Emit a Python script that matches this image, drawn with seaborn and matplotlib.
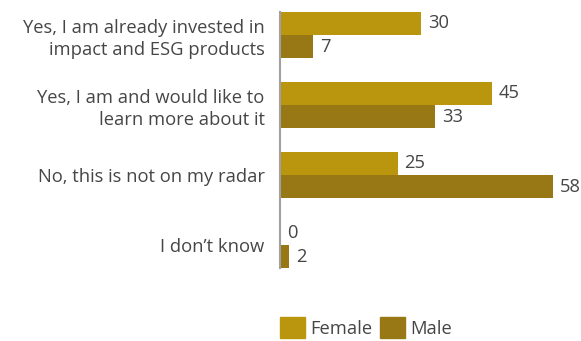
import matplotlib
matplotlib.use("Agg")
import matplotlib.pyplot as plt
import seaborn as sns
import pandas as pd

categories = [
    "Yes, I am already invested in\nimpact and ESG products",
    "Yes, I am and would like to\nlearn more about it",
    "No, this is not on my radar",
    "I don\u2019t know",
]
female = [30, 45, 25, 0]
male = [7, 33, 58, 2]
series = ["Female", "Male"]
colors = ["#BA960F", "#977814"]

df = pd.DataFrame({
    "answer": categories * 2,
    "share": female + male,
    "gender": [series[0]] * len(categories) + [series[1]] * len(categories),
})

sns.set_theme(style="white")
plt.rcParams["font.family"] = ["Open Sans", "DejaVu Sans"]
text_color = "#464646"
fs = 13.2

fig = plt.figure(figsize=(5.81, 3.41), dpi=100)
ax = fig.add_axes([280 / 581, 1 - 280 / 341, 282 / 581, 280 / 341])

sns.barplot(data=df, y="answer", x="share", hue="gender", order=categories,
            hue_order=series, palette=colors, width=0.66, orient="h",
            saturation=1, linewidth=0, ax=ax, legend=False)

for container in ax.containers:
    ax.bar_label(container, padding=5, fontsize=fs, color=text_color)

ax.set_xlim(0, 60)
ax.set_ylim(3.5, -0.5)
ax.set_xlabel("")
ax.set_ylabel("")
ax.set_xticks([])
ax.tick_params(axis="y", length=0, pad=11, labelsize=fs, labelcolor=text_color)
for lbl in ax.get_yticklabels():
    lbl.set_horizontalalignment("right")
    lbl.set_linespacing(1.3)

for side in ["top", "right", "bottom"]:
    ax.spines[side].set_visible(False)
ax.spines["left"].set_color("#A0A0A0")
ax.spines["left"].set_linewidth(1.5)
ax.spines["left"].set_bounds(-0.33, 3.33)

handles = [plt.Rectangle((0, 0), 1, 1, color=c) for c in colors]
fig.legend(handles, series, loc="lower left", bbox_to_anchor=(273 / 581, -0.012),
           ncol=2, frameon=False, fontsize=fs, labelcolor=text_color,
           handlelength=1.35, handleheight=1.35, handletextpad=0.3,
           columnspacing=0.4, borderaxespad=0.0)

fig.savefig("out.png", dpi=100)
